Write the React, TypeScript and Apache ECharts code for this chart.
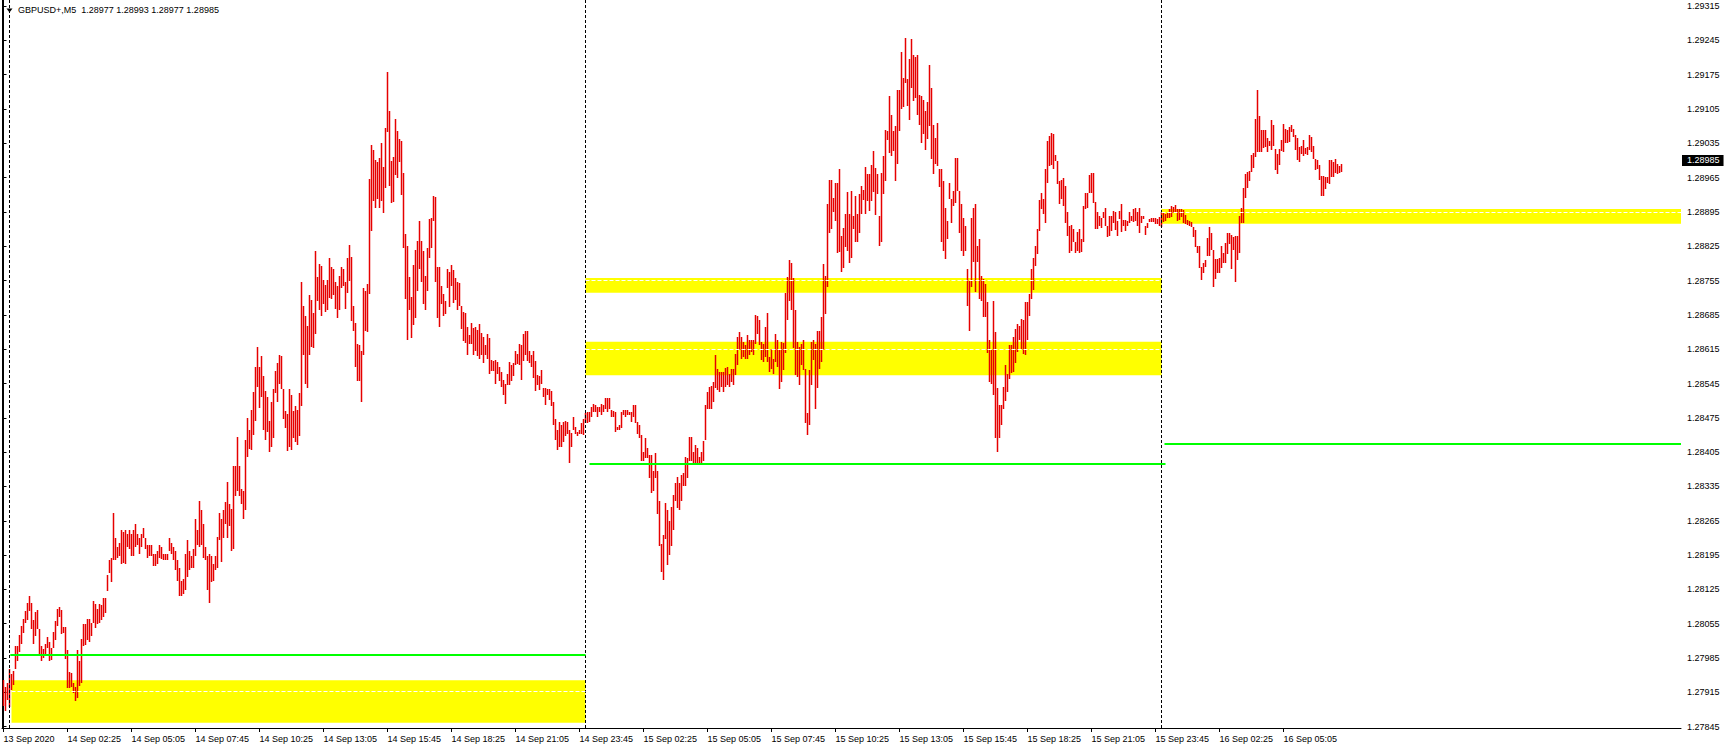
import React, { useEffect, useRef } from "react";
import * as echarts from "echarts";

// Chart header
const SYMBOL = "GBPUSD+";
const PERIOD = "M5";
const LAST = { open: 1.28977, high: 1.28993, low: 1.28977, close: 1.28985 };

// Bar prices, stored as points (0.00001) above BASE. One value per M5 bar.
const BASE = 1.27;
// 13 Sep 23:45 .. 15 Sep 00:00 (bars 0..291)
const HIGH_A = [
  940, 925, 935, 963, 952, 958, 1009, 1009, 1033, 1050,
  1064, 1082, 1097, 1111, 1097, 1062, 1079, 1084, 1045, 1009,
  1004, 1013, 1027, 1017, 1005, 1038, 1060, 1086, 1089, 1084,
  1048, 1048, 1001, 956, 954, 935, 925, 1001, 978, 1023,
  1054, 1054, 1064, 1064, 1056, 1101, 1095, 1086, 1095, 1093,
  1107, 1107, 1155, 1185, 1190, 1280, 1229, 1211, 1220, 1246,
  1242, 1246, 1238, 1246, 1238, 1246, 1259, 1238, 1229, 1238,
  1251, 1229, 1216, 1216, 1216, 1198, 1198, 1203, 1216, 1211,
  1198, 1198, 1198, 1229, 1220, 1211, 1203, 1185, 1168, 1142,
  1146, 1198, 1225, 1203, 1194, 1207, 1268, 1246, 1306, 1286,
  1259, 1211, 1194, 1198, 1194, 1177, 1194, 1231, 1281, 1268,
  1286, 1303, 1344, 1299, 1290, 1377, 1377, 1436, 1377, 1329,
  1325, 1429, 1475, 1451, 1490, 1527, 1579, 1619, 1579, 1601,
  1560, 1530, 1517, 1469, 1508, 1534, 1571, 1586, 1604, 1602,
  1534, 1489, 1482, 1534, 1521, 1489, 1499, 1490, 1525, 1752,
  1704, 1682, 1663, 1726, 1715, 1689, 1815, 1762, 1789, 1785,
  1756, 1745, 1756, 1801, 1782, 1778, 1752, 1743, 1765, 1782,
  1778, 1752, 1800, 1828, 1804, 1704, 1669, 1625, 1623, 1612,
  1739, 1734, 1747, 1963, 2031, 2022, 2000, 1996, 2005, 2035,
  1987, 2067, 2181, 2100, 1998, 2006, 2085, 2061, 2044, 2039,
  1974, 1849, 1826, 1762, 1721, 1787, 1817, 1835, 1876, 1835,
  1815, 1765, 1822, 1881, 1883, 1928, 1926, 1782, 1782, 1743,
  1727, 1713, 1778, 1772, 1787, 1776, 1760, 1752, 1750, 1704,
  1691, 1689, 1660, 1643, 1669, 1658, 1660, 1654, 1666, 1649,
  1639, 1623, 1647, 1637, 1593, 1591, 1593, 1588, 1578, 1569,
  1553, 1543, 1564, 1588, 1582, 1586, 1612, 1605, 1625, 1623,
  1647, 1652, 1652, 1612, 1604, 1612, 1591, 1562, 1560, 1573,
  1536, 1536, 1534, 1534, 1530, 1508, 1473, 1451, 1466, 1460,
  1466, 1469, 1466, 1451, 1445, 1477, 1456, 1447, 1451, 1464,
  1473, 1484,
];
const LOW_A = [
  887, 877, 900, 885, 919, 931, 962, 980, 997, 1014,
  1037, 1057, 1063, 1080, 1044, 1013, 1031, 1045, 991, 980,
  985, 993, 1005, 980, 982, 1005, 1021, 1050, 1068, 1035,
  1037, 984, 924, 924, 925, 914, 897, 903, 929, 935,
  1009, 1011, 1021, 1017, 1029, 1056, 1046, 1054, 1056, 1062,
  1068, 1077, 1122, 1159, 1140, 1185, 1185, 1190, 1194, 1177,
  1178, 1177, 1211, 1207, 1194, 1194, 1211, 1216, 1198, 1211,
  1229, 1207, 1190, 1194, 1194, 1172, 1172, 1177, 1190, 1187,
  1185, 1185, 1185, 1203, 1198, 1185, 1164, 1142, 1111, 1111,
  1116, 1124, 1150, 1164, 1168, 1168, 1194, 1216, 1211, 1216,
  1190, 1185, 1124, 1098, 1140, 1142, 1164, 1168, 1225, 1181,
  1229, 1259, 1229, 1255, 1203, 1207, 1316, 1325, 1316, 1299,
  1268, 1286, 1395, 1412, 1410, 1440, 1469, 1538, 1495, 1517,
  1451, 1429, 1447, 1405, 1416, 1434, 1525, 1508, 1543, 1534,
  1473, 1454, 1408, 1416, 1410, 1434, 1425, 1419, 1438, 1499,
  1604, 1543, 1536, 1604, 1619, 1617, 1647, 1713, 1695, 1682,
  1708, 1691, 1695, 1719, 1717, 1726, 1698, 1678, 1695, 1739,
  1743, 1698, 1730, 1754, 1673, 1652, 1579, 1550, 1551, 1508,
  1604, 1652, 1650, 1727, 1856, 1917, 1902, 1922, 1904, 1917,
  1893, 1944, 2057, 1948, 1913, 1916, 1970, 1965, 1996, 1930,
  1822, 1717, 1634, 1695, 1637, 1665, 1678, 1734, 1778, 1752,
  1708, 1695, 1734, 1800, 1822, 1876, 1752, 1678, 1660, 1708,
  1682, 1686, 1739, 1701, 1743, 1710, 1715, 1695, 1704, 1656,
  1632, 1628, 1604, 1625, 1625, 1604, 1612, 1602, 1595, 1604,
  1586, 1604, 1595, 1564, 1571, 1571, 1543, 1564, 1550, 1538,
  1521, 1503, 1541, 1541, 1550, 1560, 1582, 1584, 1582, 1553,
  1591, 1604, 1591, 1586, 1578, 1556, 1530, 1541, 1532, 1543,
  1517, 1501, 1521, 1512, 1499, 1460, 1429, 1410, 1416, 1416,
  1425, 1438, 1442, 1383, 1416, 1451, 1442, 1438, 1442, 1442,
  1440, 1464,
];
// 15 Sep 00:05 .. 15 Sep 23:55 (bars 292..578)
const HIGH_B = [
  1487, 1487, 1498, 1504, 1501, 1498, 1498, 1504, 1501, 1515,
  1515, 1516, 1491, 1489, 1487, 1457, 1460, 1487, 1491, 1491,
  1491, 1487, 1487, 1501, 1502, 1467, 1460, 1440, 1406, 1433,
  1414, 1399, 1399, 1366, 1403, 1366, 1305, 1218, 1237, 1301,
  1288, 1264, 1294, 1318, 1342, 1355, 1342, 1359, 1362, 1396,
  1393, 1435, 1435, 1406, 1420, 1413, 1396, 1406, 1428, 1501,
  1528, 1538, 1540, 1548, 1603, 1575, 1569, 1569, 1569, 1577,
  1579, 1565, 1575, 1575, 1606, 1640, 1650, 1640, 1630, 1623,
  1643, 1633, 1633, 1633, 1685, 1682, 1674, 1630, 1626, 1661,
  1689, 1599, 1616, 1596, 1645, 1633, 1613, 1630, 1628, 1730,
  1762, 1796, 1791, 1760, 1694, 1630, 1619, 1626, 1633, 1575,
  1484, 1572, 1630, 1633, 1626, 1653, 1653, 1680, 1789, 1764,
  1911, 1960, 1960, 1924, 1953, 1955, 1982, 1845, 1863, 1890,
  1936, 1890, 1938, 1887, 1928, 1890, 1931, 1948, 1940, 1987,
  1972, 1972, 1990, 2019, 1985, 1972, 1887, 1975, 2009, 2062,
  2060, 2132, 2093, 2061, 2070, 2144, 2144, 2222, 2168, 2249,
  2166, 2206, 2247, 2215, 2212, 2215, 2134, 2131, 2124, 2100,
  2120, 2195, 2148, 2073, 2046, 2076, 1982, 1982, 1958, 1904,
  1877, 1955, 1921, 1938, 2005, 2005, 1938, 1911, 1883, 1867,
  1779, 1755, 1883, 1904, 1911, 1826, 1839, 1765, 1758, 1748,
  1711, 1633, 1613, 1714, 1650, 1535, 1501, 1501, 1538, 1582,
  1565, 1623, 1623, 1640, 1657, 1667, 1663, 1677, 1674, 1711,
  1712, 1728, 1779, 1802, 1826, 1860, 1919, 1934, 1921, 1983,
  2039, 2049, 2055, 2054, 2012, 1999, 1958, 1961, 1965, 1948,
  1895, 1867, 1868, 1860, 1833, 1854, 1860, 1839, 1907, 1934,
  1934, 1971, 1975, 1975, 1915, 1894, 1887, 1883, 1894, 1902,
  1867, 1887, 1887, 1897, 1895, 1877, 1897, 1911, 1879, 1879,
  1877, 1894, 1887, 1900, 1904, 1894, 1904, 1887, 1887, 1867,
  1872, 1880, 1882, 1882, 1882, 1880, 1885,
];
const LOW_B = [
  1464, 1467, 1477, 1487, 1487, 1477, 1487, 1481, 1487, 1494,
  1487, 1494, 1477, 1477, 1447, 1450, 1450, 1454, 1481, 1477,
  1481, 1481, 1467, 1477, 1464, 1443, 1433, 1386, 1386, 1393,
  1394, 1352, 1322, 1325, 1352, 1278, 1213, 1160, 1144, 1227,
  1175, 1195, 1213, 1247, 1305, 1291, 1288, 1305, 1335, 1335,
  1352, 1387, 1386, 1379, 1383, 1378, 1383, 1383, 1386, 1430,
  1494, 1494, 1494, 1508, 1535, 1531, 1528, 1538, 1528, 1538,
  1542, 1538, 1548, 1542, 1562, 1582, 1613, 1596, 1599, 1596,
  1596, 1603, 1609, 1603, 1626, 1647, 1623, 1592, 1589, 1599,
  1589, 1569, 1575, 1565, 1589, 1579, 1533, 1548, 1572, 1608,
  1674, 1714, 1694, 1617, 1563, 1559, 1542, 1582, 1572, 1464,
  1439, 1460, 1542, 1592, 1494, 1535, 1575, 1589, 1613, 1687,
  1741, 1853, 1860, 1894, 1877, 1812, 1814, 1772, 1780, 1823,
  1816, 1791, 1800, 1860, 1833, 1833, 1853, 1890, 1920, 1890,
  1917, 1897, 1917, 1936, 1888, 1931, 1826, 1833, 1931, 1958,
  2041, 2015, 2009, 2019, 1958, 1992, 2060, 2104, 2110, 2158,
  2112, 2083, 2148, 2122, 2127, 2093, 2073, 2036, 2053, 2022,
  2043, 2070, 2002, 1972, 1992, 1988, 1945, 1833, 1816, 1799,
  1839, 1921, 1873, 1907, 1914, 1938, 1853, 1816, 1806, 1816,
  1704, 1653, 1741, 1792, 1731, 1792, 1718, 1714, 1680, 1680,
  1608, 1548, 1545, 1521, 1433, 1406, 1433, 1460, 1494, 1509,
  1528, 1555, 1567, 1569, 1586, 1609, 1633, 1616, 1606, 1603,
  1633, 1682, 1718, 1735, 1785, 1809, 1856, 1900, 1890, 1873,
  1955, 1988, 1990, 1982, 1999, 1951, 1911, 1922, 1907, 1873,
  1846, 1812, 1816, 1833, 1812, 1816, 1811, 1814, 1833, 1900,
  1904, 1934, 1934, 1914, 1860, 1860, 1867, 1863, 1883, 1867,
  1843, 1846, 1856, 1873, 1858, 1846, 1880, 1854, 1867, 1856,
  1867, 1873, 1877, 1875, 1877, 1867, 1853, 1873, 1881, 1848,
  1863, 1875, 1875, 1875, 1870, 1870, 1866,
];
// 16 Sep 00:00 .. 16 Sep 07:30 (bars 579..669)
const HIGH_C = [
  1895, 1892, 1891, 1893, 1900, 1907, 1906, 1909, 1900, 1900,
  1900, 1899, 1889, 1878, 1877, 1875, 1865, 1859, 1825, 1825,
  1783, 1791, 1796, 1841, 1865, 1851, 1817, 1798, 1798, 1800,
  1825, 1812, 1831, 1853, 1853, 1848, 1844, 1846, 1846, 1887,
  1904, 1943, 1972, 1977, 1979, 2011, 2016, 2084, 2144, 2091,
  2063, 2063, 2063, 2045, 2040, 2082, 2072, 2023, 2014, 2023,
  2042, 2074, 2065, 2063, 2069, 2072, 2065, 2052, 2045, 2028,
  2029, 2042, 2025, 2027, 2052, 2048, 2029, 2002, 2001, 1991,
  1968, 1968, 1966, 1966, 2001, 2001, 1997, 2002, 1993, 1989,
  1993,
];
const LOW_C = [
  1864, 1875, 1877, 1882, 1882, 1885, 1893, 1895, 1877, 1878,
  1885, 1873, 1870, 1868, 1866, 1865, 1844, 1823, 1812, 1780,
  1757, 1771, 1782, 1805, 1805, 1817, 1741, 1759, 1771, 1771,
  1780, 1791, 1790, 1810, 1830, 1778, 1817, 1753, 1797, 1812,
  1873, 1872, 1923, 1943, 1959, 1977, 1984, 2008, 2018, 2018,
  2018, 2025, 2028, 2018, 2029, 2021, 2029, 1980, 1972, 1991,
  2020, 2018, 2035, 2036, 2038, 2059, 2048, 2021, 2001, 1997,
  2014, 2009, 2014, 2011, 2021, 2018, 2002, 1980, 1982, 1960,
  1927, 1927, 1941, 1953, 1952, 1966, 1966, 1974, 1972, 1975,
  1977,
];

// Time axis labels, one every 32 bars starting at bar 0
const TIME_LABELS = [
  "13 Sep 2020", "14 Sep 02:25", "14 Sep 05:05", "14 Sep 07:45", "14 Sep 10:25",
  "14 Sep 13:05", "14 Sep 15:45", "14 Sep 18:25", "14 Sep 21:05", "14 Sep 23:45",
  "15 Sep 02:25", "15 Sep 05:05", "15 Sep 07:45", "15 Sep 10:25", "15 Sep 13:05",
  "15 Sep 15:45", "15 Sep 18:25", "15 Sep 21:05", "15 Sep 23:45", "16 Sep 02:25",
  "16 Sep 05:05",
];
const LABEL_EVERY = 32;

// Price axis tick labels
const PRICE_TICKS = [
  1.27845, 1.27915, 1.27985, 1.28055, 1.28125, 1.28195, 1.28265, 1.28335,
  1.28405, 1.28475, 1.28545, 1.28615, 1.28685, 1.28755, 1.28825, 1.28895,
  1.28965, 1.29035, 1.29105, 1.29175, 1.29245, 1.29315,
];

// Day separators (bar index of 14, 15, 16 Sep 00:00)
const SEPARATORS = [3, 291, 579];

// Visible axis window
const X_MIN = -0.75;
const X_MAX = 838.75;
const Y_MIN = 1.2784235;
const Y_MAX = 1.2932725;

// Yellow zones (bar from/to, top, bottom, dashed mid line)
const ZONES = [
  { from: 4, to: 291, top: 1.2794, bottom: 1.27853, mid: 1.27917 },
  { from: 291, to: 579, top: 1.2876, bottom: 1.2873, mid: 1.28756 },
  { from: 291, to: 579, top: 1.2863, bottom: 1.28562, mid: 1.28615 },
  { from: 579, to: X_MAX, top: 1.28901, bottom: 1.28871, mid: 1.28894 },
];
// Green levels
const LEVELS = [
  { from: 3.4, to: 291, price: 1.27991 },
  { from: 293, to: 581, price: 1.28381 },
  { from: 580.5, to: X_MAX, price: 1.28422 },
];

const FONT = '"Liberation Sans", Arial, sans-serif';
const BAR_COLOR = "#e60000";

export default function App() {
  const ref = useRef<HTMLDivElement>(null);
  useEffect(() => {
    document.body.style.margin = "0";
    document.body.style.overflow = "hidden";
    const chart = echarts.init(ref.current!, null, { renderer: "svg" });

    const highs = [...HIGH_A, ...HIGH_B, ...HIGH_C];
    const lows = [...LOW_A, ...LOW_B, ...LOW_C];
    const bars = highs.map((h, i) => [i, BASE + h / 1e5, BASE + lows[i] / 1e5]);
    const labelIdx = TIME_LABELS.map((_, k) => k * LABEL_EVERY);

    const lineData: any[] = [
      ...SEPARATORS.map((x) => ({
        xAxis: x,
        lineStyle: { color: "#000", type: [3, 2], width: 1 },
      })),
      ...ZONES.map((z) => [
        { coord: [z.from, z.mid], lineStyle: { color: "#fff", type: [4, 2], width: 1 } },
        { coord: [z.to, z.mid] },
      ]),
      ...LEVELS.map((l) => [
        { coord: [l.from, l.price], lineStyle: { color: "#00ff00", type: "solid", width: 2 } },
        { coord: [l.to, l.price] },
      ]),
      {
        yAxis: LAST.close,
        lineStyle: { color: "rgba(0,0,0,0)", width: 0 },
        label: {
          show: true,
          position: "end",
          distance: 1,
          formatter: () => LAST.close.toFixed(5),
          color: "#fff",
          backgroundColor: "#000",
          padding: [1, 4, 1, 5],
          fontFamily: FONT,
          fontSize: 9,
          lineHeight: 9,
        },
      },
    ];

    const option: any = {
      animation: false,
      backgroundColor: "#fff",
      textStyle: { fontFamily: FONT },
      grid: { left: 2, right: 46, top: 0, bottom: 22, containLabel: false },
      xAxis: {
        type: "value",
        min: X_MIN,
        max: X_MAX,
        axisLine: { show: true, onZero: false, lineStyle: { color: "#000", width: 1 } },
        axisTick: { show: true, length: 4, customValues: labelIdx, lineStyle: { color: "#000" } },
        axisLabel: {
          customValues: labelIdx,
          formatter: (v: number) => TIME_LABELS[Math.round(v / LABEL_EVERY)] ?? "",
          align: "left",
          verticalAlign: "middle",
          margin: 11,
          color: "#000",
          fontFamily: FONT,
          fontSize: 9,
        },
        splitLine: { show: false },
      },
      yAxis: [
        {
          type: "value",
          position: "right",
          min: Y_MIN,
          max: Y_MAX,
          axisLine: { show: true, lineStyle: { color: "#000", width: 1 } },
          axisTick: { show: true, length: 3, customValues: PRICE_TICKS, lineStyle: { color: "#000" } },
          axisLabel: {
            customValues: PRICE_TICKS,
            formatter: (v: number) => v.toFixed(5),
            margin: 6,
            color: "#000",
            fontFamily: FONT,
            fontSize: 9,
          },
          splitLine: { show: false },
        },
        {
          type: "value",
          position: "left",
          min: Y_MIN,
          max: Y_MAX,
          axisLine: { show: true, lineStyle: { color: "#000", width: 1 } },
          axisTick: { show: false },
          axisLabel: { show: false },
          splitLine: { show: false },
        },
      ],
      graphic: [
        {
          type: "polygon",
          z: 100,
          shape: { points: [[6.5, 8.5], [12.5, 8.5], [9.5, 12.5]] },
          style: { fill: "#000" },
        },
        {
          type: "text",
          z: 100,
          x: 18,
          y: 9.5,
          style: {
            text: `${SYMBOL},${PERIOD}  ${LAST.open.toFixed(5)} ${LAST.high.toFixed(5)} ${LAST.low.toFixed(5)} ${LAST.close.toFixed(5)}`,
            font: `9px ${FONT}`,
            fill: "#000",
            verticalAlign: "middle",
          },
        },
      ],
      series: [
        {
          type: "custom",
          name: SYMBOL,
          xAxisIndex: 0,
          yAxisIndex: 0,
          silent: true,
          data: bars,
          encode: { x: 0, y: [1, 2] },
          renderItem: (_params: any, api: any) => {
            const i = api.value(0);
            const hi = api.coord([i, api.value(1)]);
            const lo = api.coord([i, api.value(2)]);
            const y1 = Math.round(hi[1]);
            const y2 = Math.max(Math.round(lo[1]), y1 + 1);
            return {
              type: "rect",
              shape: { x: hi[0] - 0.75, y: y1, width: 1.5, height: y2 - y1 },
              style: { fill: BAR_COLOR },
            };
          },
          markArea: {
            silent: true,
            emphasis: { disabled: true },
            label: { show: false },
            itemStyle: { color: "#ffff00", opacity: 1 },
            data: ZONES.map((z) => [{ coord: [z.from, z.top] }, { coord: [z.to, z.bottom] }]),
          },
          markLine: {
            silent: true,
            symbol: ["none", "none"],
            emphasis: { disabled: true },
            label: { show: false },
            data: lineData,
          },
        },
      ],
    };

    chart.setOption(option);
    return () => chart.dispose();
  }, []);
  return <div ref={ref} style={{ width: 1727, height: 750, background: "#fff" }} />;
}
